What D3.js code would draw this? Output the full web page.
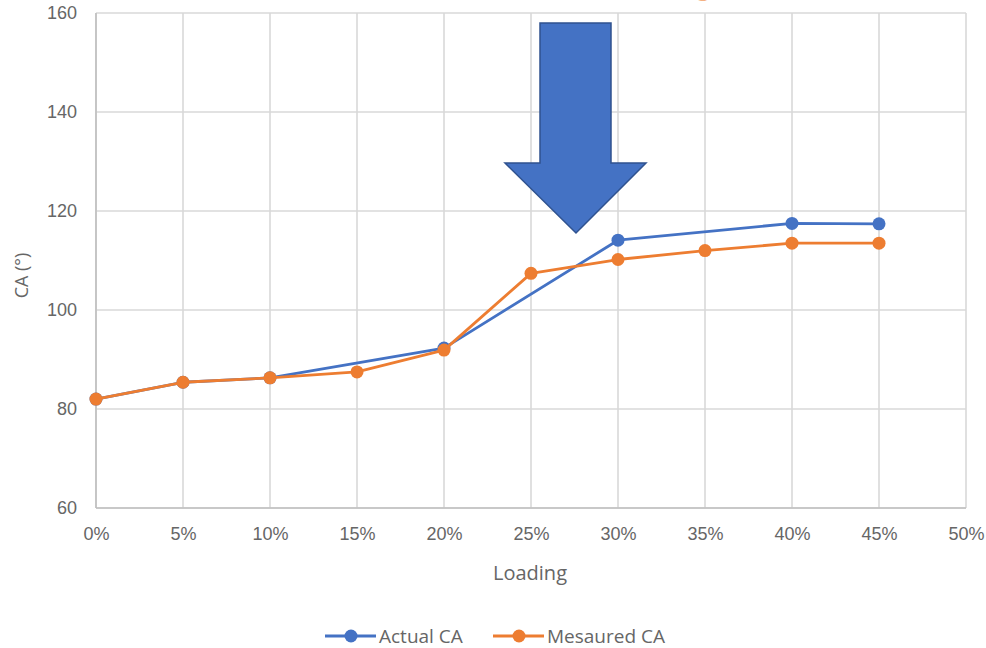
<!DOCTYPE html>
<html>
<head>
<meta charset="utf-8">
<script src="https://cdn.jsdelivr.net/npm/d3@7"></script>
<style>
  body { margin: 0; background: #fff; }
  svg { display: block; font-family: "Open Sans", "Noto Sans", sans-serif; }
</style>
</head>
<body>
<svg id="chart" width="986" height="648"></svg>
<script>
// loading levels (fraction)
const loadings = [0, 0.05, 0.10, 0.15, 0.20, 0.25, 0.30, 0.35, 0.40, 0.45];
const actualCA = [82.0, 85.4, 86.3, null, 92.3, null, 114.1, null, 117.5, 117.4];
const measuredCA = [82.0, 85.4, 86.3, 87.5, 91.9, 107.4, 110.2, 112.0, 113.5, 113.5];
const xTicks = [0, 0.05, 0.10, 0.15, 0.20, 0.25, 0.30, 0.35, 0.40, 0.45, 0.50];
const yTicks = [60, 80, 100, 120, 140, 160];

const svg = d3.select("#chart");
const plotLeft = 96, plotRight = 966, plotTop = 13, plotBottom = 508;

let x = d3.scaleLinear().domain([0, 0.5]).range([plotLeft, plotRight]);
let y = d3.scaleLinear().domain([60, 160]).range([plotBottom, plotTop]);

// grid
let grid = svg.append("g");
grid.selectAll("line.h")
  .data(yTicks)
  .enter().append("line")
  .attr("x1", plotLeft).attr("x2", plotRight)
  .attr("y1", d => y(d)).attr("y2", d => y(d))
  .attr("stroke", "#d9d9d9").attr("stroke-width", 1.6);
grid.selectAll("line.v")
  .data(xTicks)
  .enter().append("line")
  .attr("x1", d => x(d)).attr("x2", d => x(d))
  .attr("y1", plotTop).attr("y2", plotBottom)
  .attr("stroke", "#d9d9d9").attr("stroke-width", 1.6);

// axis lines
svg.append("line")
  .attr("x1", plotLeft).attr("x2", plotRight).attr("y1", plotBottom).attr("y2", plotBottom)
  .attr("stroke", "#bfbfbf").attr("stroke-width", 1.6);
svg.append("line")
  .attr("x1", plotLeft).attr("x2", plotLeft).attr("y1", plotTop).attr("y2", plotBottom)
  .attr("stroke", "#bfbfbf").attr("stroke-width", 1.6);

// axes (labels only)
let yAxis = svg.append("g")
  .attr("transform", "translate(" + plotLeft + ",0)")
  .call(d3.axisLeft(y).tickValues(yTicks).tickSize(0).tickPadding(19));
let xAxis = svg.append("g")
  .attr("transform", "translate(0," + plotBottom + ")")
  .call(d3.axisBottom(x).tickValues(xTicks).tickSize(0).tickPadding(19)
    .tickFormat(d3.format(".0%")));
[yAxis, xAxis].forEach(a => {
  a.select(".domain").remove();
  a.selectAll("text").attr("fill", "#666").style("font-size", "18px");
});

svg.append("text")
  .attr("transform", "translate(28," + ((plotTop + plotBottom) / 2 + 15) + ") rotate(-90)")
  .attr("text-anchor", "middle")
  .attr("fill", "#666").style("font-size", "18px")
  .text("CA (°)");
svg.append("text")
  .attr("x", 530).attr("y", 580)
  .attr("text-anchor", "middle")
  .attr("fill", "#666").style("font-size", "20px")
  .text("Loading");

// series
const series = [
  { name: "Actual CA", values: actualCA, color: "#4472c4" },
  { name: "Mesaured CA", values: measuredCA, color: "#ed7d31" }
];

series.forEach(s => {
  let pts = loadings.map((l, i) => [l, s.values[i]]).filter(p => p[1] != null);
  let line = d3.line().x(d => x(d[0])).y(d => y(d[1]));
  svg.append("path")
    .attr("d", line(pts))
    .attr("fill", "none")
    .attr("stroke", s.color)
    .attr("stroke-width", 2.8)
    .attr("stroke-linejoin", "round");
  svg.append("g").selectAll("circle")
    .data(pts)
    .enter().append("circle")
    .attr("cx", d => x(d[0]))
    .attr("cy", d => y(d[1]))
    .attr("r", 6.5)
    .attr("fill", s.color);
});

// big arrow annotation
svg.append("path")
  .attr("d", "M540,23 L611,23 L611,163 L646,163 L576,233 L505,163 L540,163 Z")
  .attr("fill", "#4472c4")
  .attr("stroke", "#2f528f")
  .attr("stroke-width", 1.5);

// cut-off orange text at the top edge (only its tail shows, as in the source)
svg.append("text")
  .attr("x", 703).attr("y", -4)
  .attr("text-anchor", "middle")
  .attr("fill", "#f4b183")
  .style("font-family", "Liberation Serif, serif")
  .style("font-size", "26px")
  .text("g");

// legend
let legend = svg.append("g");
let lx = [325, 493];
series.forEach((s, i) => {
  let g = legend.append("g").attr("transform", "translate(" + lx[i] + ",636)");
  g.append("line").attr("x1", 0).attr("x2", 51)
    .attr("stroke", s.color).attr("stroke-width", 2.8);
  g.append("circle").attr("cx", 26).attr("r", 6.5).attr("fill", s.color);
  g.append("text").attr("x", 54).attr("y", 7)
    .attr("fill", "#666").style("font-size", "19px")
    .text(s.name);
});
</script>
</body>
</html>
